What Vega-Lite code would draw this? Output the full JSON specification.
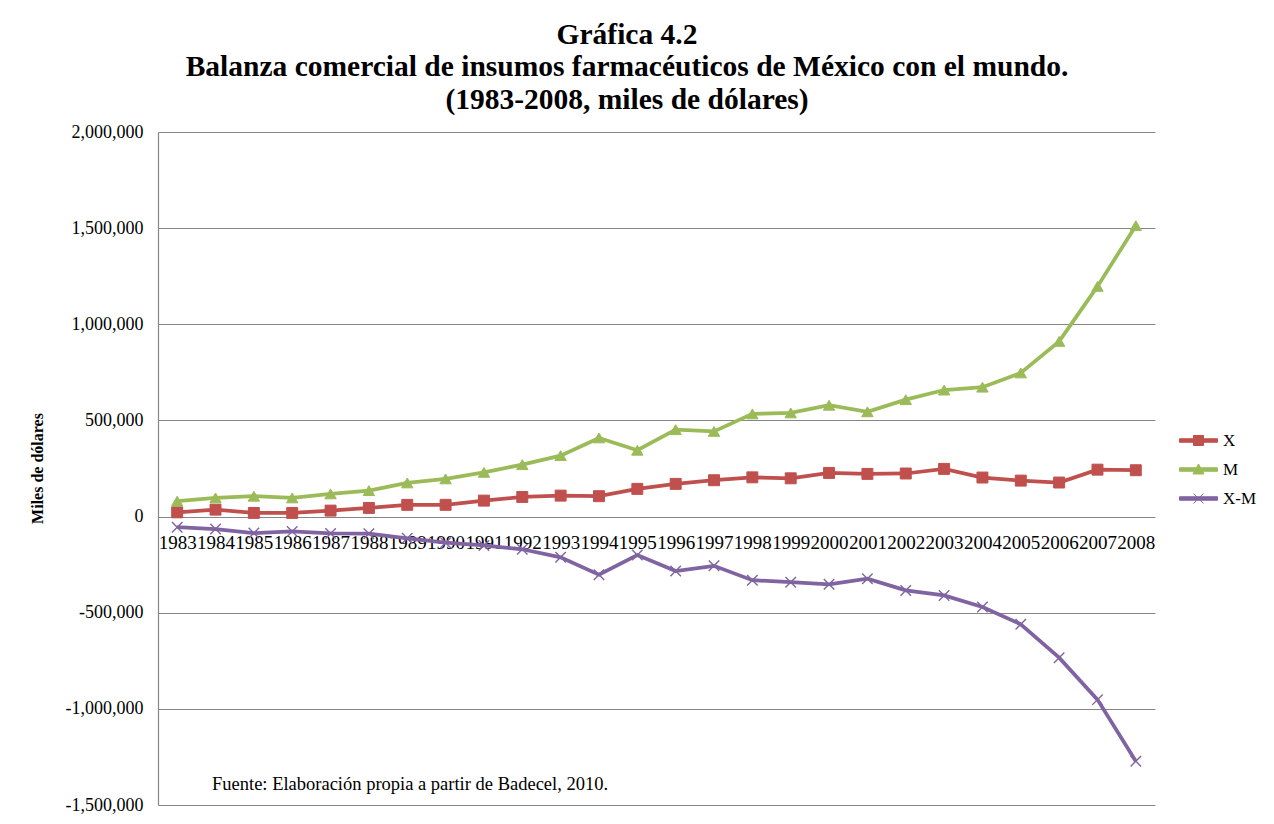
{
  "$schema": "https://vega.github.io/schema/vega-lite/v6.json",
  "width": 997,
  "height": 673,
  "autosize": {"type": "none"},
  "padding": {"left": 158, "top": 132, "right": 119, "bottom": 19},
  "background": "white",
  "config": {
    "font": "Liberation Serif",
    "view": {"stroke": null}
  },
  "title": {
    "text": [
      "Gráfica 4.2",
      "Balanza comercial de insumos farmacéuticos de México con el mundo.",
      "(1983-2008, miles de dólares)"
    ],
    "font": "Liberation Serif",
    "fontSize": 29.5,
    "fontWeight": "bold",
    "lineHeight": 32.5,
    "color": "black",
    "anchor": "middle",
    "frame": "bounds",
    "offset": 8,
    "dx": -16
  },
  "layer": [
    {
      "data": {
        "values": [
          {"year": "1983", "X": 22000, "M": 80000, "X-M": -55000},
          {"year": "1984", "X": 36000, "M": 97000, "X-M": -65000},
          {"year": "1985", "X": 19000, "M": 106000, "X-M": -86000},
          {"year": "1986", "X": 19000, "M": 97000, "X-M": -77000},
          {"year": "1987", "X": 31000, "M": 118000, "X-M": -88000},
          {"year": "1988", "X": 45000, "M": 135000, "X-M": -89000},
          {"year": "1989", "X": 61000, "M": 175000, "X-M": -113000},
          {"year": "1990", "X": 61000, "M": 196000, "X-M": -136000},
          {"year": "1991", "X": 83000, "M": 230000, "X-M": -150000},
          {"year": "1992", "X": 102000, "M": 270000, "X-M": -170000},
          {"year": "1993", "X": 109000, "M": 317000, "X-M": -212000},
          {"year": "1994", "X": 106000, "M": 409000, "X-M": -302000},
          {"year": "1995", "X": 144000, "M": 345000, "X-M": -200000},
          {"year": "1996", "X": 170000, "M": 452000, "X-M": -283000},
          {"year": "1997", "X": 189000, "M": 443000, "X-M": -256000},
          {"year": "1998", "X": 204000, "M": 534000, "X-M": -331000},
          {"year": "1999", "X": 199000, "M": 539000, "X-M": -341000},
          {"year": "2000", "X": 227000, "M": 579000, "X-M": -352000},
          {"year": "2001", "X": 222000, "M": 545000, "X-M": -323000},
          {"year": "2002", "X": 224000, "M": 608000, "X-M": -384000},
          {"year": "2003", "X": 248000, "M": 658000, "X-M": -410000},
          {"year": "2004", "X": 203000, "M": 673000, "X-M": -470000},
          {"year": "2005", "X": 187000, "M": 747000, "X-M": -560000},
          {"year": "2006", "X": 177000, "M": 911000, "X-M": -734000},
          {"year": "2007", "X": 244000, "M": 1197000, "X-M": -952000},
          {"year": "2008", "X": 241000, "M": 1513000, "X-M": -1272000}
        ]
      },
      "transform": [{"fold": ["X", "M", "X-M"], "as": ["serie", "valor"]}],
      "encoding": {
        "x": {
          "field": "year",
          "type": "ordinal",
          "scale": {"type": "point", "padding": 0.5},
          "axis": {
            "orient": "bottom",
            "offset": -288,
            "title": null,
            "domain": false,
            "ticks": false,
            "grid": false,
            "labelAngle": 0,
            "labelFont": "Liberation Serif",
            "labelFontSize": 19,
            "labelColor": "black",
            "labelPadding": 16,
            "labelOverlap": false,
            "labelFlush": false
          }
        },
        "y": {
          "field": "valor",
          "type": "quantitative",
          "scale": {"domain": [-1500000, 2000000], "nice": false, "zero": false},
          "axis": {
            "values": [-1500000, -1000000, -500000, 0, 500000, 1000000, 1500000, 2000000],
            "labelExpr": "replace(format(datum.value, ','), '\u2212', '-')",
            "labelFont": "Liberation Serif",
            "labelFontSize": 18,
            "labelColor": "black",
            "labelPadding": 15,
            "ticks": false,
            "domain": true,
            "domainColor": "#868686",
            "domainWidth": 1.2,
            "grid": true,
            "gridColor": "#868686",
            "gridWidth": 1.2,
            "title": "Miles de dólares",
            "titleFont": "Liberation Serif",
            "titleFontSize": 16,
            "titleFontWeight": "bold",
            "titleColor": "black",
            "titleAngle": -90,
            "titleX": -121,
            "titleY": 336,
            "titleAlign": "center",
            "titleBaseline": "middle"
          }
        },
        "color": {
          "field": "serie",
          "type": "nominal",
          "scale": {"domain": ["X", "M", "X-M"], "range": ["#C0504D", "#9BBB59", "#8064A2"]},
          "legend": {
            "title": null,
            "orient": "none",
            "legendX": 1032,
            "legendY": 300,
            "padding": 0,
            "labelFont": "Liberation Serif",
            "labelFontSize": 17,
            "labelColor": "black",
            "labelOffset": 16,
            "symbolSize": 100,
            "rowPadding": 11,
            "encode": {
              "symbols": {
                "update": {
                  "shape": {"signal": "datum.value === 'X' ? 'M-3.8,-0.35H3.8V0.35H-3.8ZM-1,-1H1V1H-1Z' : datum.value === 'M' ? 'M-3.8,-0.35H3.8V0.35H-3.8ZM0,-1.1L1.1,0.9H-1.1Z' : 'M-3.8,-0.35H3.8V0.35H-3.8ZM-1,-1L1,1M-1,1L1,-1'"},
                  "fill": {"signal": "scale('color', datum.value)"},
                  "stroke": {"signal": "scale('color', datum.value)"},
                  "strokeWidth": {"value": 1},
                  "opacity": {"value": 1},
                  "fillOpacity": {"value": 1}
                }
              }
            }
          }
        }
      },
      "layer": [
        {"mark": {"type": "line", "strokeWidth": 3.75}},
        {
          "transform": [{"filter": "datum.serie === 'X'"}],
          "mark": {"type": "point", "shape": "square", "filled": true, "size": 120, "opacity": 1, "strokeWidth": 1, "stroke": "#C0504D"}
        },
        {
          "transform": [{"filter": "datum.serie === 'M'"}],
          "mark": {"type": "point", "shape": "triangle-up", "filled": true, "size": 130, "opacity": 1, "strokeWidth": 1, "stroke": "#9BBB59"}
        },
        {
          "transform": [{"filter": "datum.serie === 'X-M'"}],
          "mark": {"type": "point", "shape": "M-1,-1L1,1M-1,1L1,-1", "filled": false, "size": 110, "opacity": 1, "strokeWidth": 1.4}
        }
      ]
    },
    {
      "data": {"values": [{"nota": "Fuente: Elaboración propia a partir de Badecel, 2010."}]},
      "mark": {"type": "text", "align": "left", "baseline": "middle", "dx": -3.5, "font": "Liberation Serif", "fontSize": 18.5, "color": "black"},
      "encoding": {
        "x": {"datum": "1984"},
        "y": {"datum": -1390000},
        "text": {"field": "nota"}
      }
    }
  ]
}
